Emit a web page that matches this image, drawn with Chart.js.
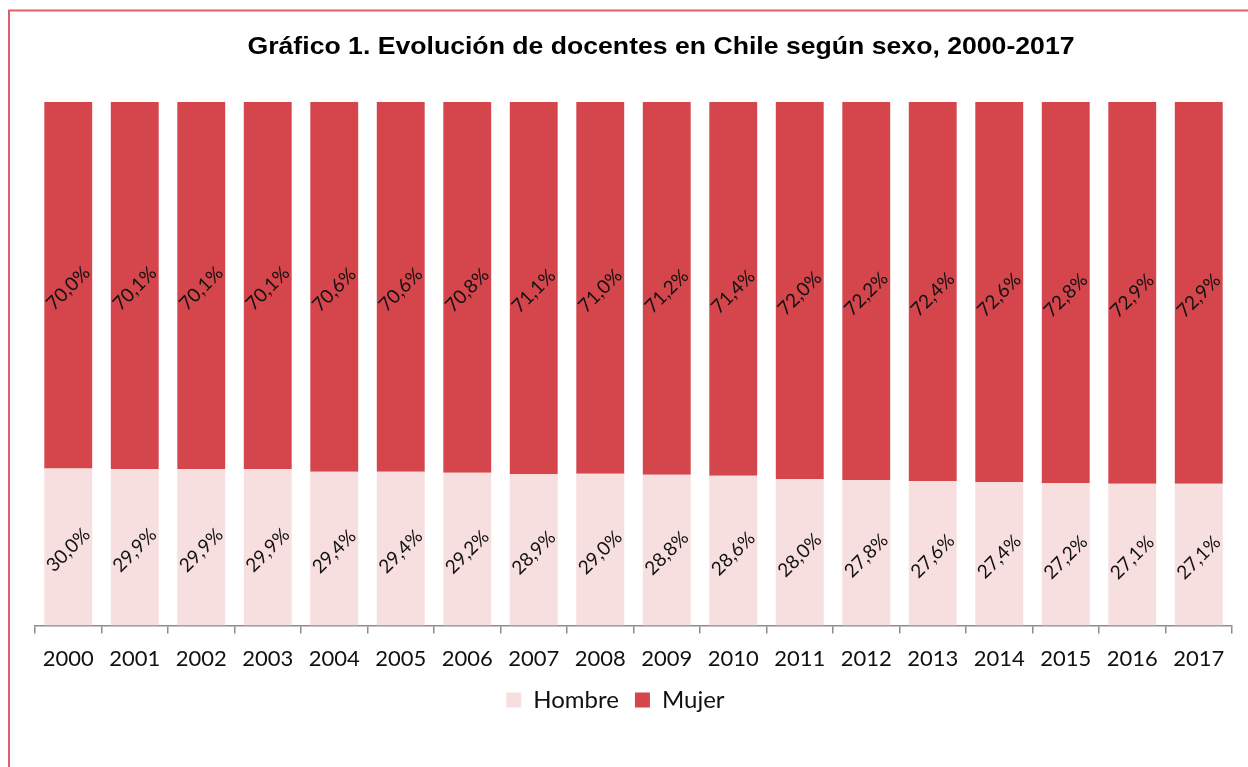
<!DOCTYPE html>
<html>
<head>
<meta charset="utf-8">
<script src="https://cdn.jsdelivr.net/npm/chart.js@4/dist/chart.umd.min.js"></script>
<style>
html,body{margin:0;padding:0;background:#fff;}
#wrap{position:relative;width:1248px;height:767px;}
</style>
</head>
<body>
<div id="wrap"><canvas id="c" width="1248" height="767"></canvas></div>
<script>
const years = ["2000","2001","2002","2003","2004","2005","2006","2007","2008","2009","2010","2011","2012","2013","2014","2015","2016","2017"];
const hombre = [30.0,29.9,29.9,29.9,29.4,29.4,29.2,28.9,29.0,28.8,28.6,28.0,27.8,27.6,27.4,27.2,27.1,27.1];
const mujer  = [70.0,70.1,70.1,70.1,70.6,70.6,70.8,71.1,71.0,71.2,71.4,72.0,72.2,72.4,72.6,72.8,72.9,72.9];
const seriesNames = ["Hombre","Mujer"];
const titleText = "Gráfico 1. Evolución de docentes en Chile según sexo, 2000-2017";

const frame = {
  id:'frame',
  beforeDraw(chart){
    const ctx = chart.ctx;
    ctx.save();
    ctx.fillStyle = '#fff';
    ctx.fillRect(0,0,chart.width,chart.height);
    ctx.strokeStyle = '#E0606A';
    ctx.lineWidth = 2;
    ctx.strokeRect(9,10.5,1260,800);
    // title
    ctx.font = 'bold 24px "Liberation Sans"';
    ctx.fillStyle = '#000';
    ctx.textAlign = 'center';
    ctx.textBaseline = 'middle';
    const w = ctx.measureText(titleText).width;
    const sx = 827 / w;
    ctx.translate(661, 47);
    ctx.scale(sx, 1);
    ctx.fillText(titleText, 0, 0);
    ctx.restore();
  }
};

const barLabels = {
  id:'barLabels',
  afterDatasetsDraw(chart){
    const ctx = chart.ctx;
    ctx.save();
    ctx.font = '19px Lato';
    ctx.fillStyle = '#111';
    ctx.textAlign = 'center';
    ctx.textBaseline = 'middle';
    chart.data.datasets.forEach((ds,di)=>{
      const meta = chart.getDatasetMeta(di);
      meta.data.forEach((el,i)=>{
        const v = ds.data[i];
        const txt = v.toFixed(1).replace('.',',') + '%';
        const cy = (el.y + el.base)/2 + 3;
        ctx.save();
        ctx.translate(el.x, cy);
        ctx.rotate(-Math.PI/4);
        ctx.fillText(txt,0,0);
        ctx.restore();
      });
    });
    ctx.restore();
  }
};

const legendSuffix = ['\u2002', '\u2003\u2002 '];

new Chart(document.getElementById('c'),{
  type:'bar',
  data:{
    labels: years,
    datasets:[
      {label:seriesNames[0], data:hombre, backgroundColor:'#F7DEDF', borderWidth:0},
      {label:seriesNames[1], data:mujer, backgroundColor:'#D4454C', borderWidth:0}
    ]
  },
  options:{
    responsive:false,
    animation:false,
    layout:{padding:{left:35,right:16,top:102,bottom:45}},
    scales:{
      x:{
        stacked:true,
        categoryPercentage:1.0,
        barPercentage:0.72,
        grid:{display:true,drawOnChartArea:false,drawTicks:true,tickLength:8,color:'#8c8c8c',offset:true,lineWidth:1.5},
        border:{display:true,color:'#8c8c8c',width:1.5},
        ticks:{color:'#111',font:{family:'Lato',size:22},padding:12,maxRotation:0,autoSkip:false}
      },
      y:{stacked:true,display:false,min:0,max:100}
    },
    plugins:{
      title:{display:false},
      legend:{position:'bottom',labels:{color:'#111',font:{family:'Lato',size:24},boxWidth:15,boxHeight:15,padding:4,
        generateLabels(chart){
          const items = Chart.defaults.plugins.legend.labels.generateLabels(chart);
          items.forEach((it,i)=>{ it.text = it.text + legendSuffix[i]; });
          return items;
        }}},
      tooltip:{enabled:false}
    }
  },
  plugins:[frame,barLabels]
});
</script>
</body>
</html>
